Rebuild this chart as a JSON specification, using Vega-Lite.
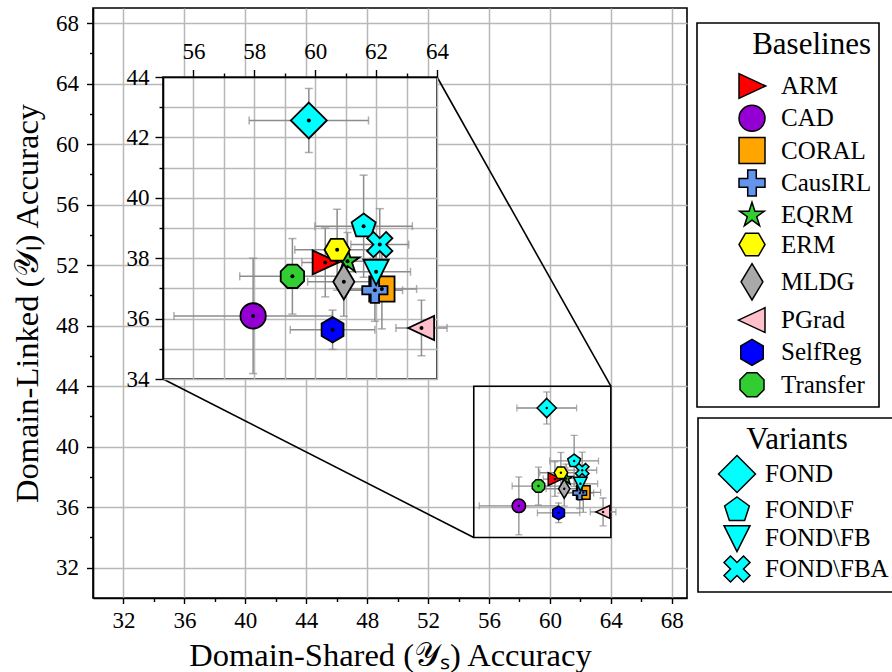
{
  "$schema": "https://vega.github.io/schema/vega-lite/v6.json",
  "padding": {"left": 10, "top": 7, "right": 0, "bottom": 0},
  "background": "white",
  "config": {
    "font": "Liberation Serif",
    "style": {
      "guide-label": {"font": "Liberation Serif", "fill": "black"},
      "guide-title": {"font": "Liberation Serif", "fill": "black"}
    },
    "axis": {
      "labelFont": "Liberation Serif", "titleFont": "Liberation Serif",
      "labelFontSize": 23, "titleFontSize": 32.5, "titleFontWeight": "normal",
      "labelColor": "black", "titleColor": "black", "tickColor": "black", "domainColor": "black",
      "tickWidth": 1.4, "domainWidth": 1.6, "gridColor": "#b8b8b8", "gridWidth": 1.5,
      "labelFlush": false, "labelOverlap": false
    },
    "legend": {
      "labelFont": "Liberation Serif", "titleFont": "Liberation Serif",
      "titleFontSize": 31, "labelFontSize": 25, "titleFontWeight": "normal",
      "titleColor": "black", "labelColor": "black", "strokeColor": "black", "strokeWidth": 1.6,
      "fillColor": "white", "cornerRadius": 0, "padding": 7,
      "symbolSize": 676, "symbolOpacity": 1
    }
  },
  "datasets": {
    "pts": [
      {"method": "ARM", "group": "Baselines", "x": 60.33, "y": 37.86, "ex": 0.77, "ey": 1.14},
      {"method": "CAD", "group": "Baselines", "x": 57.96, "y": 36.09, "ex": 2.6, "ey": 1.91},
      {"method": "CORAL", "group": "Baselines", "x": 62.19, "y": 36.98, "ex": 1.14, "ey": 1.32},
      {"method": "CausIRL", "group": "Baselines", "x": 61.96, "y": 36.94, "ex": 0.91, "ey": 1.03},
      {"method": "EQRM", "group": "Baselines", "x": 61.06, "y": 37.9, "ex": 0.75, "ey": 0.95},
      {"method": "ERM", "group": "Baselines", "x": 60.72, "y": 38.28, "ex": 1.39, "ey": 1.34},
      {"method": "MLDG", "group": "Baselines", "x": 60.94, "y": 37.22, "ex": 1.19, "ey": 1.14},
      {"method": "PGrad", "group": "Baselines", "x": 63.49, "y": 35.69, "ex": 0.84, "ey": 0.92},
      {"method": "SelfReg", "group": "Baselines", "x": 60.57, "y": 35.63, "ex": 1.39, "ey": 0.65},
      {"method": "Transfer", "group": "Baselines", "x": 59.25, "y": 37.4, "ex": 1.73, "ey": 1.25},
      {"method": "FOND", "group": "Variants", "x": 59.79, "y": 42.56, "ex": 1.96, "ey": 1.06},
      {"method": "FOND\\F", "group": "Variants", "x": 61.59, "y": 39.06, "ex": 1.6, "ey": 1.69},
      {"method": "FOND\\FB", "group": "Variants", "x": 62.0, "y": 37.55, "ex": 1.13, "ey": 1.0},
      {"method": "FOND\\FBA", "group": "Variants", "x": 62.12, "y": 38.45, "ex": 0.95, "ey": 1.19}
    ],
    "box": [{"x": 55, "x2": 64, "y": 34, "y2": 44}],
    "conn": [
      {"x": 52.59, "y": 64.44, "x2": 64, "y2": 44},
      {"x": 34.6, "y": 44.48, "x2": 55, "y2": 34}
    ]
  },
  "bounds": "flush",
  "spacing": 69,
  "resolve": {"scale": {"fill": "independent", "shape": "independent"}, "legend": {"fill": "independent", "shape": "independent"}},
  "vconcat": [
    {
      "bounds": "flush",
      "spacing": 0,
      "resolve": {"scale": {"fill": "independent", "shape": "independent"}, "legend": {"fill": "independent", "shape": "independent"}},
      "hconcat": [
        {
          "width": 594, "height": 590,
          "view": {"stroke": "black", "strokeWidth": 1.6},
          "data": {"name": "pts"},
          "resolve": {"scale": {"fill": "independent", "shape": "independent"}},
          "encoding": {
            "x": {"field": "x", "type": "quantitative",
              "scale": {"domain": [30, 69], "nice": false, "zero": false},
              "axis": {"title": "Domain-Shared (𝒴ₛ) Accuracy",
                "labelFont": "Liberation Serif", "titleFont": "Liberation Serif",
                "values": [32, 34, 36, 38, 40, 42, 44, 46, 48, 50, 52, 54, 56, 58, 60, 62, 64, 66, 68],
                "labelExpr": "datum.value % 4 === 0 ? datum.label : ''",
                "gridOpacity": {"condition": {"test": "datum.value % 4 === 0", "value": 1}, "value": 0},
                "tickSize": {"condition": {"test": "datum.value % 4 === 0", "value": 5.5}, "value": 3.5},
                "labelPadding": 6, "titlePadding": 7}},
            "y": {"field": "y", "type": "quantitative",
              "scale": {"domain": [30, 69], "nice": false, "zero": false},
              "axis": {"title": "Domain-Linked (𝒴ₗ) Accuracy",
                "labelFont": "Liberation Serif", "titleFont": "Liberation Serif",
                "values": [32, 34, 36, 38, 40, 42, 44, 46, 48, 50, 52, 54, 56, 58, 60, 62, 64, 66, 68],
                "labelExpr": "datum.value % 4 === 0 ? datum.label : ''",
                "gridOpacity": {"condition": {"test": "datum.value % 4 === 0", "value": 1}, "value": 0},
                "tickSize": {"condition": {"test": "datum.value % 4 === 0", "value": 6.5}, "value": 3.5},
                "labelPadding": 8, "titlePadding": 11}}
          },
          "layer": [
            {"data": {"name": "box"}, "mark": {"type": "rect", "filled": false, "stroke": "black", "strokeWidth": 1.6},
              "encoding": {"x2": {"field": "x2"}, "y2": {"field": "y2"}}},
            {"data": {"name": "conn"}, "mark": {"type": "rule", "color": "black", "strokeWidth": 1.6},
              "encoding": {"x2": {"field": "x2"}, "y2": {"field": "y2"}}},
            {"mark": {"type": "errorbar", "orient": "horizontal", "ticks": {"size": 7, "thickness": 1.3, "color": "#8c8c8c"}, "rule": {"strokeWidth": 1.3, "color": "#8c8c8c"}},
              "encoding": {"xError": {"field": "ex"}}},
            {"mark": {"type": "errorbar", "orient": "vertical", "ticks": {"size": 7, "thickness": 1.3, "color": "#8c8c8c"}, "rule": {"strokeWidth": 1.3, "color": "#8c8c8c"}},
              "encoding": {"yError": {"field": "ey"}}},
            {"transform": [{"filter": "datum.group === 'Baselines'"}],
              "mark": {"type": "point", "filled": true, "size": 182, "stroke": "black", "strokeWidth": 1.5, "opacity": 1},
              "encoding": {
                "shape": {"field": "method", "type": "nominal",
                  "scale": {"domain": ["ARM", "CAD", "CORAL", "CausIRL", "EQRM", "ERM", "MLDG", "PGrad", "SelfReg", "Transfer"],
                    "range": ["M1.05,0L-1,-0.95L-1,0.95Z", "circle", "M-1,-1H1V1H-1Z", "M-0.33,-1H0.33V-0.33H1V0.33H0.33V1H-0.33V0.33H-1V-0.33H-0.33Z", "M0,-1L0.2245,-0.309L0.9511,-0.309L0.3633,0.118L0.5878,0.809L0,0.382L-0.5878,0.809L-0.3633,0.118L-0.9511,-0.309L-0.2245,-0.309Z", "M1,0L0.5,0.866L-0.5,0.866L-1,0L-0.5,-0.866L0.5,-0.866Z", "M0,-1.4L0.84,0L0,1.4L-0.84,0Z", "M-1.05,0L1,-0.95L1,0.95Z", "M0,-1L0.866,-0.5L0.866,0.5L0,1L-0.866,0.5L-0.866,-0.5Z", "M0.3827,-0.9239L0.9239,-0.3827L0.9239,0.3827L0.3827,0.9239L-0.3827,0.9239L-0.9239,0.3827L-0.9239,-0.3827L-0.3827,-0.9239Z"]},
                  "legend": {"title": "Baselines", "labelFont": "Liberation Serif", "titleFont": "Liberation Serif", "titleAnchor": "end", "orient": "none", "legendX": 604, "legendY": 15, "symbolOffset": 34, "labelOffset": 15, "rowPadding": 0.3, "titlePadding": 11}},
                "fill": {"field": "method", "type": "nominal",
                  "scale": {"domain": ["ARM", "CAD", "CORAL", "CausIRL", "EQRM", "ERM", "MLDG", "PGrad", "SelfReg", "Transfer"],
                    "range": ["#ff0000", "#9400d3", "#ffa500", "#6495ed", "#32cd32", "#ffff00", "#a9a9a9", "#ffc0cb", "#0000ff", "#32cd32"]},
                  "legend": {"title": "Baselines", "labelFont": "Liberation Serif", "titleFont": "Liberation Serif", "titleAnchor": "end", "orient": "none", "legendX": 604, "legendY": 15, "symbolOffset": 34, "labelOffset": 15, "rowPadding": 0.3, "titlePadding": 11}}
              }},
            {"transform": [{"filter": "datum.group === 'Variants'"}],
              "mark": {"type": "point", "filled": true, "size": 182, "stroke": "black", "strokeWidth": 1.5, "opacity": 1},
              "encoding": {
                "shape": {"field": "method", "type": "nominal",
                  "scale": {"domain": ["FOND", "FOND\\F", "FOND\\FB", "FOND\\FBA"],
                    "range": ["M0,-1.42L1.42,0L0,1.42L-1.42,0Z", "M0,-1L0.951,-0.309L0.588,0.809L-0.588,0.809L-0.951,-0.309Z", "M-1,-0.95L1,-0.95L0,1.05Z", "M0.5,-1L1,-0.5L0.5,0L1,0.5L0.5,1L0,0.5L-0.5,1L-1,0.5L-0.5,0L-1,-0.5L-0.5,-1L0,-0.5Z"]},
                  "legend": {"title": "Variants", "labelFont": "Liberation Serif", "titleFont": "Liberation Serif", "titleAnchor": "middle", "orient": "none", "legendX": 605, "legendY": 410, "symbolOffset": 18, "labelOffset": 14, "rowPadding": -3, "titlePadding": 4}},
                "fill": {"field": "method", "type": "nominal",
                  "scale": {"domain": ["FOND", "FOND\\F", "FOND\\FB", "FOND\\FBA"], "range": ["#00ffff", "#00ffff", "#00ffff", "#00ffff"]},
                  "legend": {"title": "Variants", "labelFont": "Liberation Serif", "titleFont": "Liberation Serif", "titleAnchor": "middle", "orient": "none", "legendX": 605, "legendY": 410, "symbolOffset": 18, "labelOffset": 14, "rowPadding": -3, "titlePadding": 4}}
              }},
            {"mark": {"type": "point", "filled": true, "shape": "circle", "size": 6, "color": "black", "opacity": 1}}
          ]
        }
      ]
    },
    {
      "bounds": "flush",
      "spacing": 0,
      "resolve": {"scale": {"fill": "independent", "shape": "independent"}, "legend": {"fill": "independent", "shape": "independent"}},
      "hconcat": [
        {"width": 70, "height": 10, "data": {"values": [{"a": 1}]},
          "mark": {"type": "text", "text": ""}, "encoding": {}, "view": {"stroke": null, "fill": null}},
        {
          "width": 274, "height": 302,
          "view": {"stroke": "black", "strokeWidth": 1.6, "fill": "white"},
          "data": {"name": "pts"},
          "resolve": {"scale": {"fill": "independent", "shape": "independent"}},
          "encoding": {
            "x": {"field": "x", "type": "quantitative",
              "scale": {"domain": [55, 64], "nice": false, "zero": false},
              "axis": {"title": null, "orient": "top", "labelFont": "Liberation Serif",
                "values": [56, 57, 58, 59, 60, 61, 62, 63, 64],
                "labelExpr": "datum.value % 2 === 0 ? datum.label : ''",
                "tickSize": {"condition": {"test": "datum.value % 2 === 0", "value": 7.5}, "value": 4},
                "labelPadding": 6}},
            "y": {"field": "y", "type": "quantitative",
              "scale": {"domain": [34, 44], "nice": false, "zero": false},
              "axis": {"title": null, "labelFont": "Liberation Serif",
                "values": [34, 35, 36, 37, 38, 39, 40, 41, 42, 43, 44],
                "labelExpr": "datum.value % 2 === 0 ? datum.label : ''",
                "tickSize": {"condition": {"test": "datum.value % 2 === 0", "value": 8}, "value": 4},
                "labelPadding": 6}}
          },
          "layer": [
            {"mark": {"type": "errorbar", "orient": "horizontal", "ticks": {"size": 8, "thickness": 1.5, "color": "#8c8c8c"}, "rule": {"strokeWidth": 1.5, "color": "#8c8c8c"}},
              "encoding": {"xError": {"field": "ex"}}},
            {"mark": {"type": "errorbar", "orient": "vertical", "ticks": {"size": 8, "thickness": 1.5, "color": "#8c8c8c"}, "rule": {"strokeWidth": 1.5, "color": "#8c8c8c"}},
              "encoding": {"yError": {"field": "ey"}}},
            {"transform": [{"filter": "datum.group === 'Baselines'"}],
              "mark": {"type": "point", "filled": true, "size": 640, "stroke": "black", "strokeWidth": 1.8, "opacity": 1},
              "encoding": {
                "shape": {"field": "method", "type": "nominal", "legend": null,
                  "scale": {"domain": ["ARM", "CAD", "CORAL", "CausIRL", "EQRM", "ERM", "MLDG", "PGrad", "SelfReg", "Transfer"],
                    "range": ["M1.05,0L-1,-0.95L-1,0.95Z", "circle", "M-1,-1H1V1H-1Z", "M-0.33,-1H0.33V-0.33H1V0.33H0.33V1H-0.33V0.33H-1V-0.33H-0.33Z", "M0,-1L0.2245,-0.309L0.9511,-0.309L0.3633,0.118L0.5878,0.809L0,0.382L-0.5878,0.809L-0.3633,0.118L-0.9511,-0.309L-0.2245,-0.309Z", "M1,0L0.5,0.866L-0.5,0.866L-1,0L-0.5,-0.866L0.5,-0.866Z", "M0,-1.4L0.84,0L0,1.4L-0.84,0Z", "M-1.05,0L1,-0.95L1,0.95Z", "M0,-1L0.866,-0.5L0.866,0.5L0,1L-0.866,0.5L-0.866,-0.5Z", "M0.3827,-0.9239L0.9239,-0.3827L0.9239,0.3827L0.3827,0.9239L-0.3827,0.9239L-0.9239,0.3827L-0.9239,-0.3827L-0.3827,-0.9239Z"]}},
                "fill": {"field": "method", "type": "nominal", "legend": null,
                  "scale": {"domain": ["ARM", "CAD", "CORAL", "CausIRL", "EQRM", "ERM", "MLDG", "PGrad", "SelfReg", "Transfer"],
                    "range": ["#ff0000", "#9400d3", "#ffa500", "#6495ed", "#32cd32", "#ffff00", "#a9a9a9", "#ffc0cb", "#0000ff", "#32cd32"]}}
              }},
            {"transform": [{"filter": "datum.group === 'Variants'"}],
              "mark": {"type": "point", "filled": true, "size": 640, "stroke": "black", "strokeWidth": 1.8, "opacity": 1},
              "encoding": {
                "shape": {"field": "method", "type": "nominal", "legend": null,
                  "scale": {"domain": ["FOND", "FOND\\F", "FOND\\FB", "FOND\\FBA"],
                    "range": ["M0,-1.42L1.42,0L0,1.42L-1.42,0Z", "M0,-1L0.951,-0.309L0.588,0.809L-0.588,0.809L-0.951,-0.309Z", "M-1,-0.95L1,-0.95L0,1.05Z", "M0.5,-1L1,-0.5L0.5,0L1,0.5L0.5,1L0,0.5L-0.5,1L-1,0.5L-0.5,0L-1,-0.5L-0.5,-1L0,-0.5Z"]}},
                "fill": {"field": "method", "type": "nominal", "legend": null,
                  "scale": {"domain": ["FOND", "FOND\\F", "FOND\\FB", "FOND\\FBA"], "range": ["#00ffff", "#00ffff", "#00ffff", "#00ffff"]}}
              }},
            {"mark": {"type": "point", "filled": true, "shape": "circle", "size": 16, "color": "black", "opacity": 1}}
          ]
        }
      ]
    }
  ]
}
